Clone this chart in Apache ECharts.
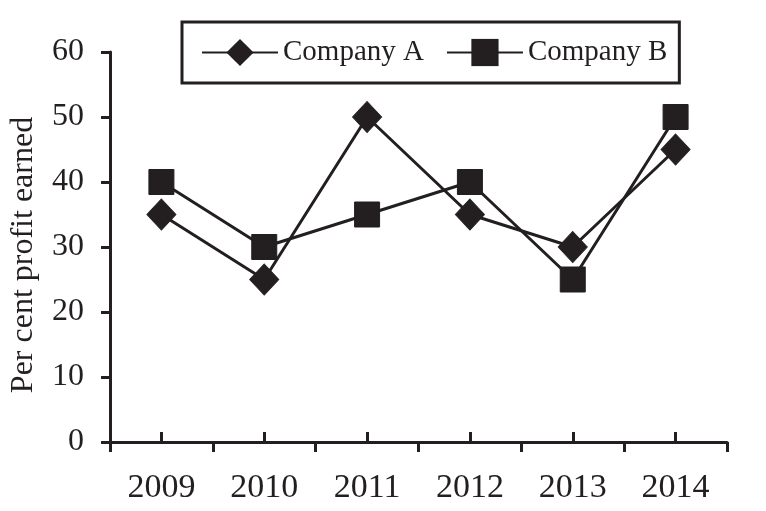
<!DOCTYPE html>
<html>
<head>
<meta charset="utf-8">
<script src="https://cdn.jsdelivr.net/npm/echarts@6/dist/echarts.min.js"></script>
<style>html,body{margin:0;padding:0;background:#fff;}#c{width:766px;height:511px;}</style>
</head>
<body>
<div id="c"></div>
<script>
const years = ['2009', '2010', '2011', '2012', '2013', '2014'];
const companyA = [35, 25, 50, 35, 30, 45];
const companyB = [40, 30, 35, 40, 25, 50];
const yTicks = { min: 0, max: 60, interval: 10 };
const yTitle = 'Per cent profit earned';

const ink = '#231f20';
const font = "'Liberation Serif', 'Times New Roman', serif";

const chart = echarts.init(document.getElementById('c'), null, { renderer: 'canvas' });
chart.setOption({
  animation: false,
  backgroundColor: '#fff',
  textStyle: { fontFamily: font, color: ink },
  grid: { left: 106, right: 39, top: 52, bottom: 69 },
  legend: {
    left: 182,
    top: 22,
    orient: 'horizontal',
    itemWidth: 76,
    itemHeight: 34,
    itemGap: 22,
    itemTextGap: 6,
    padding: [16, 12, 16, 19],
    borderColor: ink,
    borderWidth: 3,
    textStyle: { fontFamily: font, fontSize: 29, color: ink },
    data: ['Company A', 'Company B']
  },
  xAxis: [
    {
      type: 'category',
      data: years,
      boundaryGap: true,
      position: 'bottom',
      axisLine: { show: true, lineStyle: { color: ink, width: 3 } },
      axisTick: { show: true, interval: 0, inside: false, length: 10, lineStyle: { color: ink, width: 3 } },
      axisLabel: { show: true, interval: 0, margin: 29, fontFamily: font, fontSize: 34, color: ink },
      splitLine: { show: false }
    },
    {
      type: 'category',
      data: years,
      boundaryGap: true,
      position: 'bottom',
      offset: 0,
      axisLine: { show: false },
      axisTick: { show: true, interval: 0, alignWithLabel: true, inside: true, length: 10, lineStyle: { color: ink, width: 3 } },
      axisLabel: { show: false },
      splitLine: { show: false }
    }
  ],
  yAxis: {
    type: 'value',
    min: yTicks.min,
    max: yTicks.max,
    interval: yTicks.interval,
    name: yTitle,
    nameLocation: 'middle',
    nameRotate: 90,
    nameGap: 70,
    nameTextStyle: { fontFamily: font, fontSize: 32, color: ink, padding: [0, 16, 0, 0] },
    axisLine: { show: true, lineStyle: { color: ink, width: 3 } },
    axisTick: { show: true, length: 9, lineStyle: { color: ink, width: 3 } },
    axisLabel: { margin: 26, fontFamily: font, fontSize: 32, color: ink },
    splitLine: { show: false }
  },
  series: [
    {
      name: 'Company A',
      type: 'line',
      xAxisIndex: 0,
      data: companyA,
      symbol: 'diamond',
      symbolSize: [29, 31],
      lineStyle: { color: ink, width: 3 },
      itemStyle: { color: ink, borderColor: ink },
      z: 3
    },
    {
      name: 'Company B',
      type: 'line',
      xAxisIndex: 0,
      data: companyB,
      symbol: 'rect',
      symbolSize: 25,
      lineStyle: { color: ink, width: 3 },
      itemStyle: { color: ink, borderColor: ink },
      z: 2
    }
  ]
});
</script>
</body>
</html>
